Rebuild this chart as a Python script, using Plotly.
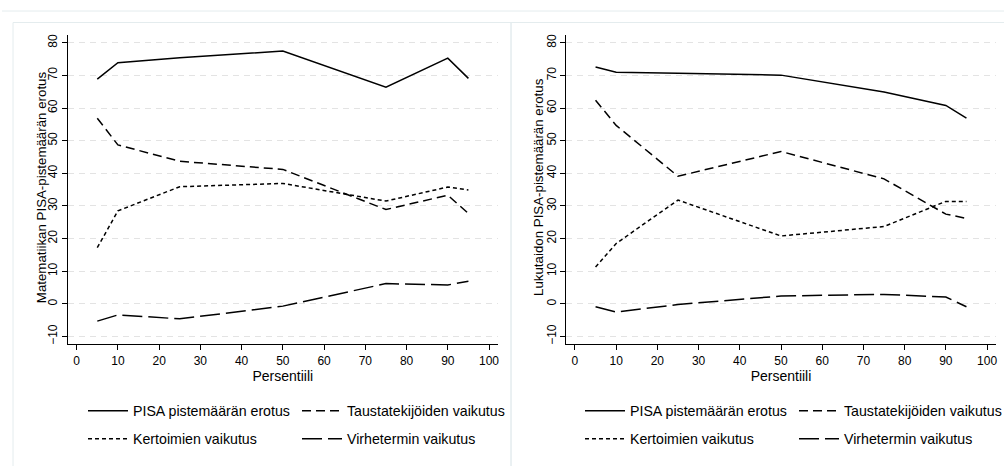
import plotly.graph_objects as go

# ---------------- data ----------------
percentiles = [5, 10, 25, 50, 75, 90, 95]

series_names = [
    "PISA pistemäärän erotus",
    "Taustatekijöiden vaikutus",
    "Kertoimien vaikutus",
    "Virhetermin vaikutus",
]

# Matematiikka (left panel)
math_total = [68.9, 73.9, 75.4, 77.5, 66.4, 75.3, 69.1]
math_background = [56.9, 48.7, 43.7, 41.2, 28.9, 33.3, 27.7]
math_coefficients = [17.2, 28.5, 35.9, 36.9, 31.5, 35.8, 34.9]
math_residual = [-5.3, -3.4, -4.6, -0.7, 6.2, 5.8, 6.9]

# Lukutaito (right panel)
read_total = [72.6, 71.0, 70.7, 70.1, 64.9, 60.8, 56.9]
read_background = [62.4, 54.7, 39.1, 46.7, 38.3, 27.5, 26.2]
read_coefficients = [11.3, 18.5, 31.8, 20.8, 23.7, 31.4, 31.4]
read_residual = [-0.9, -2.5, -0.2, 2.4, 2.9, 2.1, -0.9]

y_titles = ["Matematiikan PISA-pistemäärän erotus", "Lukutaidon PISA-pistemäärän erotus"]
x_title = "Persentiili"
x_ticks = list(range(0, 101, 10))
y_ticks = list(range(-10, 81, 10))

# ---------------- styling ----------------
FONT = "Arial, Liberation Sans, sans-serif"
dashes = ["solid", "9px,5px", "4px,3px", "20px,6px"]
LW = 1.5

fig = go.Figure()

panels = [
    ("x", "y", [math_total, math_background, math_coefficients, math_residual], ["legend", "legend2"]),
    ("x2", "y2", [read_total, read_background, read_coefficients, read_residual], ["legend3", "legend4"]),
]

for xa, ya, vals, legs in panels:
    for i, (name, v) in enumerate(zip(series_names, vals)):
        fig.add_trace(go.Scatter(
            x=percentiles, y=v, name=name, mode="lines",
            line=dict(color="black", width=LW, dash=dashes[i]),
            xaxis=xa, yaxis=ya,
            legend=legs[0] if i < 2 else legs[1],
            showlegend=True, hoverinfo="skip",
        ))

W, H = 1004, 466
xdom_left = [68 / W, 497.7 / W]
xdom_right = [566.3 / W, 995.7 / W]
ydom = [1 - 344.3 / H, 1 - 35 / H]

axis_common_x = dict(
    range=[-2.1, 102.1], tickvals=x_ticks, showgrid=False, zeroline=False,
    showline=True, linecolor="black", linewidth=1,
    ticks="outside", ticklen=5, tickcolor="black", tickwidth=1,
    tickfont=dict(family=FONT, size=12, color="black"),
    title=dict(text=x_title, font=dict(family=FONT, size=14, color="black"), standoff=4),
    automargin=False,
)
axis_common_y = dict(
    range=[-12.4, 82.4], tickvals=y_ticks, showgrid=True, gridcolor="#e3e3e3",
    griddash="6px,5px", gridwidth=1, zeroline=False,
    showline=True, linecolor="black", linewidth=1,
    ticks="outside", ticklen=5, tickcolor="black", tickwidth=1, tickangle=-90,
    tickfont=dict(family=FONT, size=12, color="black"),
    automargin=False,
)

fig.update_layout(
    width=W, height=H,
    margin=dict(l=0, r=0, t=0, b=0, autoexpand=False),
    paper_bgcolor="white", plot_bgcolor="white",
    font=dict(family=FONT, color="black"),
    xaxis=dict(domain=xdom_left, anchor="y", **axis_common_x),
    xaxis2=dict(domain=xdom_right, anchor="y2", **axis_common_x),
    yaxis=dict(domain=ydom, anchor="x", **axis_common_y),
    yaxis2=dict(domain=ydom, anchor="x2", **axis_common_y),
)

# y-axis titles (rotated text)
title_y = 1 - 187.5 / H
for xpix, txt in [(41.7, y_titles[0]), (538.5, y_titles[1])]:
    fig.add_annotation(
        text=txt, x=xpix / W, y=title_y, xref="paper", yref="paper",
        xanchor="center", yanchor="middle", textangle=-90, showarrow=False,
        font=dict(family=FONT, size=13.3, color="black"),
    )

leg_common = dict(orientation="h", xanchor="left", yanchor="middle",
                  font=dict(family=FONT, size=14.2, color="black"),
                  bgcolor="rgba(0,0,0,0)", borderwidth=0,
                  entrywidth=159, entrywidthmode="pixels", itemwidth=40,
                  traceorder="normal")
row1_y = 1 - 411 / H
row2_y = 1 - 439 / H
fig.update_layout(
    legend=dict(x=83 / W, y=row1_y, **leg_common),
    legend2=dict(x=83 / W, y=row2_y, **leg_common),
    legend3=dict(x=580 / W, y=row1_y, **leg_common),
    legend4=dict(x=580 / W, y=row2_y, **leg_common),
)

# panel frames (decoration)
frame_col = "#e4ecee"
fig.add_shape(type="line", xref="paper", yref="paper", x0=2 / W, x1=1, y0=1 - 11 / H, y1=1 - 11 / H,
              line=dict(color=frame_col, width=1), layer="below")
fig.add_shape(type="rect", xref="paper", yref="paper", x0=13 / W, x1=511 / W, y0=-0.01, y1=1 - 22.5 / H,
              line=dict(color=frame_col, width=1), layer="below")
fig.add_shape(type="rect", xref="paper", yref="paper", x0=511 / W, x1=1.01, y0=-0.01, y1=1 - 22.5 / H,
              line=dict(color=frame_col, width=1), layer="below")

fig.write_html(
    "out.html", config={"displayModeBar": False},
    post_script=(
        "document.body.style.margin='0';"
        "document.body.style.overflow='hidden';"
    ),
)
